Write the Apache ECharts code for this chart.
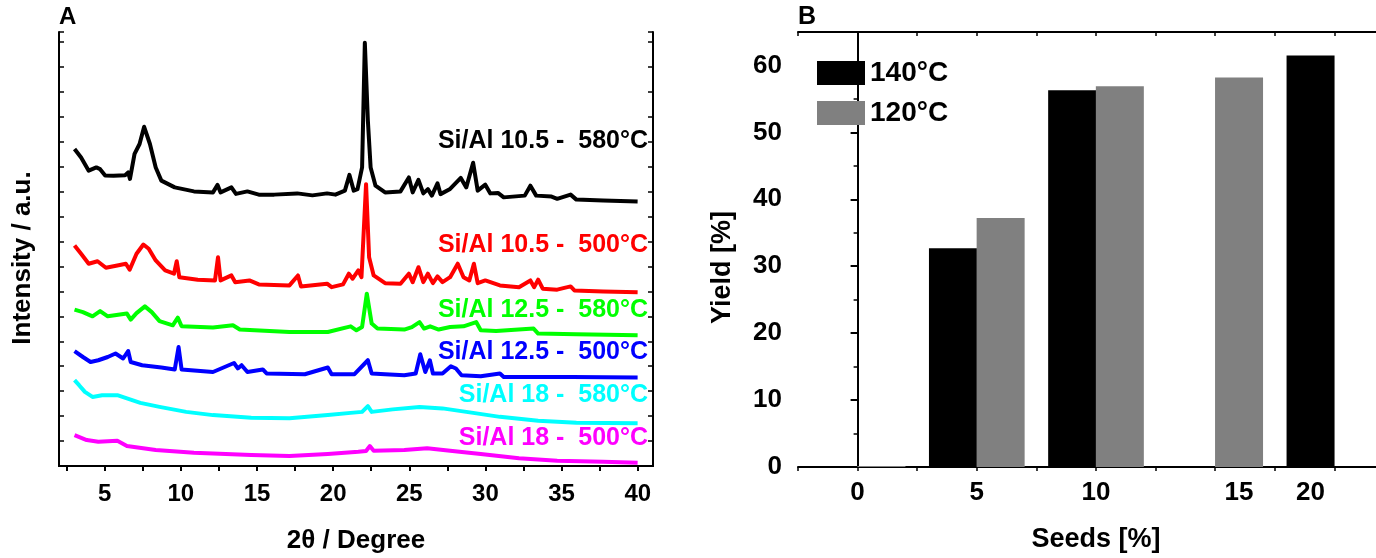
<!DOCTYPE html>
<html>
<head>
<meta charset="utf-8">
<script src="https://cdn.jsdelivr.net/npm/echarts@6/dist/echarts.min.js"></script>
<style>
html,body{margin:0;padding:0;background:#fff;}
#c{width:1376px;height:558px;}
</style>
</head>
<body>
<div id="c"></div>
<script>
// ---------- Panel A data: [2theta, intensity (a.u., offset)] ----------
const si105_580 = [[3.02,12.71],[3.45,12.37],[3.95,11.84],[4.45,11.97],[4.7,11.9],[5.03,11.65],[5.58,11.64],[6.34,11.66],[6.54,11.77],[6.66,11.51],[6.96,12.51],[7.29,12.91],[7.59,13.6],[7.97,12.91],[8.35,11.97],[8.72,11.44],[9.6,11.17],[10.86,11.01],[12.11,10.97],[12.41,11.27],[12.61,10.97],[13.32,11.17],[13.62,10.91],[14.37,11.01],[15.12,10.88],[16.13,10.88],[17.64,10.93],[18.64,10.85],[19.6,10.93],[20.15,10.88],[20.77,11.04],[21.07,11.67],[21.35,11.04],[21.6,11.1],[21.9,11.97],[22.08,16.97],[22.28,13.84],[22.46,11.97],[22.78,11.24],[23.41,10.97],[24.42,11.01],[24.97,11.57],[25.22,10.97],[25.6,11.47],[25.92,10.93],[26.22,11.1],[26.48,10.84],[26.85,11.33],[27.05,10.9],[27.68,11.11],[28.38,11.55],[28.74,11.17],[29.19,12.16],[29.49,11.04],[29.99,11.28],[30.32,10.93],[30.82,10.95],[31.2,10.77],[32.58,10.84],[32.95,11.24],[33.33,10.84],[34.34,10.8],[34.71,10.71],[35.59,10.88],[35.97,10.68],[37.73,10.64],[39.99,10.6]];
const si105_500 = [[3.02,8.84],[3.45,8.51],[3.95,8.11],[4.53,8.21],[5.08,7.95],[5.83,8.04],[6.39,8.11],[6.64,7.87],[7.09,8.51],[7.54,8.88],[7.89,8.71],[8.35,8.24],[8.97,7.84],[9.55,7.71],[9.73,8.21],[9.9,7.57],[11.11,7.47],[12.24,7.44],[12.44,8.37],[12.61,7.44],[13.32,7.64],[13.57,7.37],[14.5,7.44],[15.12,7.28],[17.13,7.24],[17.69,7.64],[17.89,7.2],[19.6,7.31],[19.9,7.17],[20.65,7.28],[21.03,7.71],[21.28,7.51],[21.65,7.84],[21.86,7.57],[22.16,11.3],[22.36,8.37],[22.66,7.64],[23.41,7.33],[24.42,7.31],[24.97,7.71],[25.22,7.37],[25.6,7.97],[25.92,7.37],[26.22,7.71],[26.55,7.33],[26.85,7.6],[27.18,7.37],[27.68,7.57],[28.18,8.11],[28.56,7.57],[28.94,7.44],[29.24,8.11],[29.49,7.33],[29.99,7.44],[30.95,7.24],[32.2,7.17],[32.95,7.44],[33.2,7.17],[33.46,7.47],[33.76,7.11],[34.71,7.07],[35.59,7.2],[35.84,7.04],[37.73,7.0],[39.99,6.97]];
const si125_580 = [[3.02,6.27],[3.57,6.17],[4.2,6.0],[4.7,6.21],[5.2,6.0],[6.46,6.11],[6.71,5.87],[7.09,6.13],[7.64,6.4],[8.09,6.17],[8.6,5.81],[9.47,5.64],[9.8,5.95],[10.05,5.6],[12.11,5.55],[13.42,5.64],[13.87,5.47],[17.13,5.37],[19.65,5.37],[21.15,5.6],[21.53,5.44],[21.9,5.57],[22.21,6.91],[22.53,5.71],[22.91,5.51],[24.67,5.47],[25.17,5.57],[25.67,5.77],[25.97,5.51],[26.37,5.6],[26.93,5.47],[27.68,5.57],[28.56,5.6],[29.39,5.77],[29.69,5.44],[30.7,5.41],[33.16,5.51],[33.46,5.31],[35.97,5.28],[39.99,5.24]];
const si125_500 = [[3.02,4.61],[3.57,4.37],[4.07,4.17],[4.58,4.24],[5.2,4.37],[5.71,4.51],[6.21,4.31],[6.54,4.61],[6.71,4.17],[7.46,4.04],[8.72,3.95],[9.6,3.87],[9.85,4.77],[10.05,3.87],[12.11,3.77],[13.49,4.13],[13.74,3.91],[13.99,4.04],[14.37,3.77],[15.38,3.87],[15.63,3.71],[18.14,3.68],[19.65,3.95],[19.9,3.68],[21.4,3.68],[22.28,4.24],[22.53,3.71],[23.41,3.68],[24.67,3.64],[25.42,3.71],[25.72,4.48],[26.05,3.77],[26.35,4.24],[26.55,3.71],[27.18,3.71],[27.73,4.0],[28.06,3.91],[28.43,3.64],[29.69,3.6],[30.95,3.71],[31.2,3.57],[35.72,3.57],[39.99,3.55]];
const si18_580 = [[3.02,3.44],[3.32,3.24],[3.7,2.97],[4.2,2.77],[4.83,2.84],[5.83,2.84],[6.46,2.71],[7.34,2.53],[8.6,2.37],[10.35,2.17],[12.11,2.04],[14.62,1.93],[17.13,1.91],[19.65,2.04],[21.15,2.13],[21.9,2.17],[22.28,2.4],[22.53,2.17],[23.91,2.27],[25.67,2.37],[27.18,2.31],[29.19,2.13],[30.95,1.97],[33.46,1.81],[35.97,1.73],[39.99,1.71]];
const si18_500 = [[3.02,1.24],[3.82,1.04],[4.58,0.97],[5.83,1.01],[6.46,0.8],[8.35,0.64],[10.86,0.53],[14.62,0.44],[17.13,0.4],[19.65,0.48],[21.65,0.57],[22.16,0.6],[22.41,0.8],[22.66,0.61],[24.67,0.64],[26.17,0.71],[27.68,0.61],[29.69,0.48],[32.2,0.31],[34.71,0.21],[37.73,0.17],[39.99,0.13]];
const seriesNamesA = ['Si/Al 10.5 -  580°C','Si/Al 10.5 -  500°C','Si/Al 12.5 -  580°C','Si/Al 12.5 -  500°C','Si/Al 18 -  580°C','Si/Al 18 -  500°C'];
const thetaTicks = [2.5,5,7.5,10,12.5,15,17.5,20,22.5,25,27.5,30,32.5,35,37.5,40];
const thetaLabels = [5,10,15,20,25,30,35,40];

// ---------- Panel B data ----------
const seedCategories = ['0','5','10','15','20'];
const seedLabelPos = [0,5,10,16,19];          // x position of each category label
const seedTicks = [-2.5,0,2.5,5,7.5,10,12.5,15,17.5,20,22.5];
const bar140x = [-1,4,9,19];
const bar140y = [0.15,32.7,56.3,61.5];
const bar120x = [1,6,11,16];
const bar120y = [0.15,37.2,56.9,58.2];
const legendNames = ['140°C','120°C'];

const FONT = '"Liberation Sans", Arial, sans-serif';
const colorsA = ['#000000','#ff0000','#00ff00','#0000ff','#00ffff','#ff00ff'];
const dataA = [si105_580, si105_500, si125_580, si125_500, si18_580, si18_500];
const labelYA = [141, 245, 310, 352, 395, 438];

const chart = echarts.init(document.getElementById('c'));
const axisLine = {show:true, lineStyle:{color:'#000', width:2}};
const boldTxt = (s)=>({color:'#000', fontFamily:FONT, fontWeight:'bold', fontSize:s});

const option = {
  backgroundColor:'#fff',
  animation:false,
  grid:[
    {left:59, top:32, right:723, bottom:92, outerBoundsMode:'none', containLabel:false},
    {left:798, top:32, width:596, bottom:91, outerBoundsMode:'none', containLabel:false}
  ],
  xAxis:[
    {gridIndex:0, type:'value', min:2, max:41, position:'bottom',
     axisLine:axisLine, splitLine:{show:false},
     axisTick:{show:true, inside:false, length:5, customValues:thetaTicks, lineStyle:{width:2,color:'#000'}},
     axisLabel:{customValues:thetaLabels, margin:16, ...boldTxt(24)},
     name:'2θ / Degree', nameLocation:'middle', nameGap:62, nameTextStyle:boldTxt(26)},
    {gridIndex:0, type:'value', min:2, max:41, position:'top',
     axisLine:axisLine, splitLine:{show:false},
     axisTick:{show:true, inside:true, length:5, customValues:thetaTicks, lineStyle:{width:1.5,color:'#000'}},
     axisLabel:{show:false}},
    {gridIndex:1, type:'value', min:-2.5, max:22.5, position:'bottom',
     axisLine:axisLine, splitLine:{show:false},
     axisTick:{show:true, inside:false, length:4, customValues:seedTicks, lineStyle:{width:1.5,color:'#000'}},
     axisLabel:{customValues:seedLabelPos, margin:13, ...boldTxt(26),
       formatter:(v)=>{const i=seedLabelPos.indexOf(v); return i>=0?seedCategories[i]:'';}},
     name:'Seeds [%]', nameLocation:'middle', nameGap:59, nameTextStyle:boldTxt(27)},
    {gridIndex:1, type:'value', min:-2.5, max:22.5, position:'top',
     axisLine:axisLine, splitLine:{show:false},
     axisTick:{show:true, inside:true, length:4, customValues:seedTicks, lineStyle:{width:1.5,color:'#000'}},
     axisLabel:{show:false}}
  ],
  yAxis:[
    {gridIndex:0, type:'value', min:0, max:17.4, interval:1, position:'left',
     axisLine:axisLine, splitLine:{show:false},
     axisTick:{show:true, inside:true, length:5, lineStyle:{width:1.5,color:'#000'}},
     axisLabel:{show:false},
     name:'Intensity / a.u.', nameLocation:'middle', nameGap:23, nameRotate:90,
     nameTextStyle:{...boldTxt(26), padding:[0,18,0,0]}},
    {gridIndex:0, type:'value', min:0, max:17.4, interval:1, position:'right',
     axisLine:axisLine, splitLine:{show:false},
     axisTick:{show:true, inside:true, length:5, lineStyle:{width:1.5,color:'#000'}},
     axisLabel:{show:false}},
    {gridIndex:1, type:'value', min:0, max:65, interval:10, position:'left',
     axisLine:axisLine, splitLine:{show:false},
     axisTick:{show:true, inside:false, length:7, lineStyle:{width:2,color:'#000'}},
     minorTick:{show:true, splitNumber:2, length:4, lineStyle:{width:1.5,color:'#000'}},
     axisLabel:{margin:16, showMaxLabel:false, ...boldTxt(26)},
     name:'Yield [%]', nameLocation:'middle', nameGap:62, nameRotate:90,
     nameTextStyle:{...boldTxt(27), padding:[0,36,0,0]}}
  ],
  legend:{
    data:legendNames, orient:'vertical', left:812, top:54, itemGap:12,
    itemWidth:48, itemHeight:24, icon:'rect',
    textStyle:{...boldTxt(28), padding:[0,0,0,0]}
  },
  graphic:[
    {type:'text', left:59, top:5, style:{text:'A', font:'bold 24px '+FONT, fill:'#000'}},
    {type:'text', left:798, top:5, style:{text:'B', font:'bold 25px '+FONT, fill:'#000'}}
  ].concat(seriesNamesA.map((t,i)=>({
    type:'text', x:648, y:labelYA[i],
    style:{text:t, font:'bold 25px '+FONT, fill:colorsA[i], align:'right', verticalAlign:'middle'}
  }))),
  series: dataA.map((d,i)=>({
    name:seriesNamesA[i], type:'line', xAxisIndex:0, yAxisIndex:0,
    data:d, showSymbol:false, symbol:'none',
    lineStyle:{color:colorsA[i], width:4, join:'round'}, itemStyle:{color:colorsA[i]}
  })).concat([
    {name:legendNames[0], type:'bar', xAxisIndex:2, yAxisIndex:2,
     data:bar140x.map((x,i)=>[x,bar140y[i]]), barWidth:48, barGap:'-100%',
     itemStyle:{color:'#000000'}},
    {name:legendNames[1], type:'bar', xAxisIndex:2, yAxisIndex:2,
     data:bar120x.map((x,i)=>[x,bar120y[i]]), barWidth:48, barGap:'-100%',
     itemStyle:{color:'#808080'}}
  ])
};
chart.setOption(option);
</script>
</body>
</html>
